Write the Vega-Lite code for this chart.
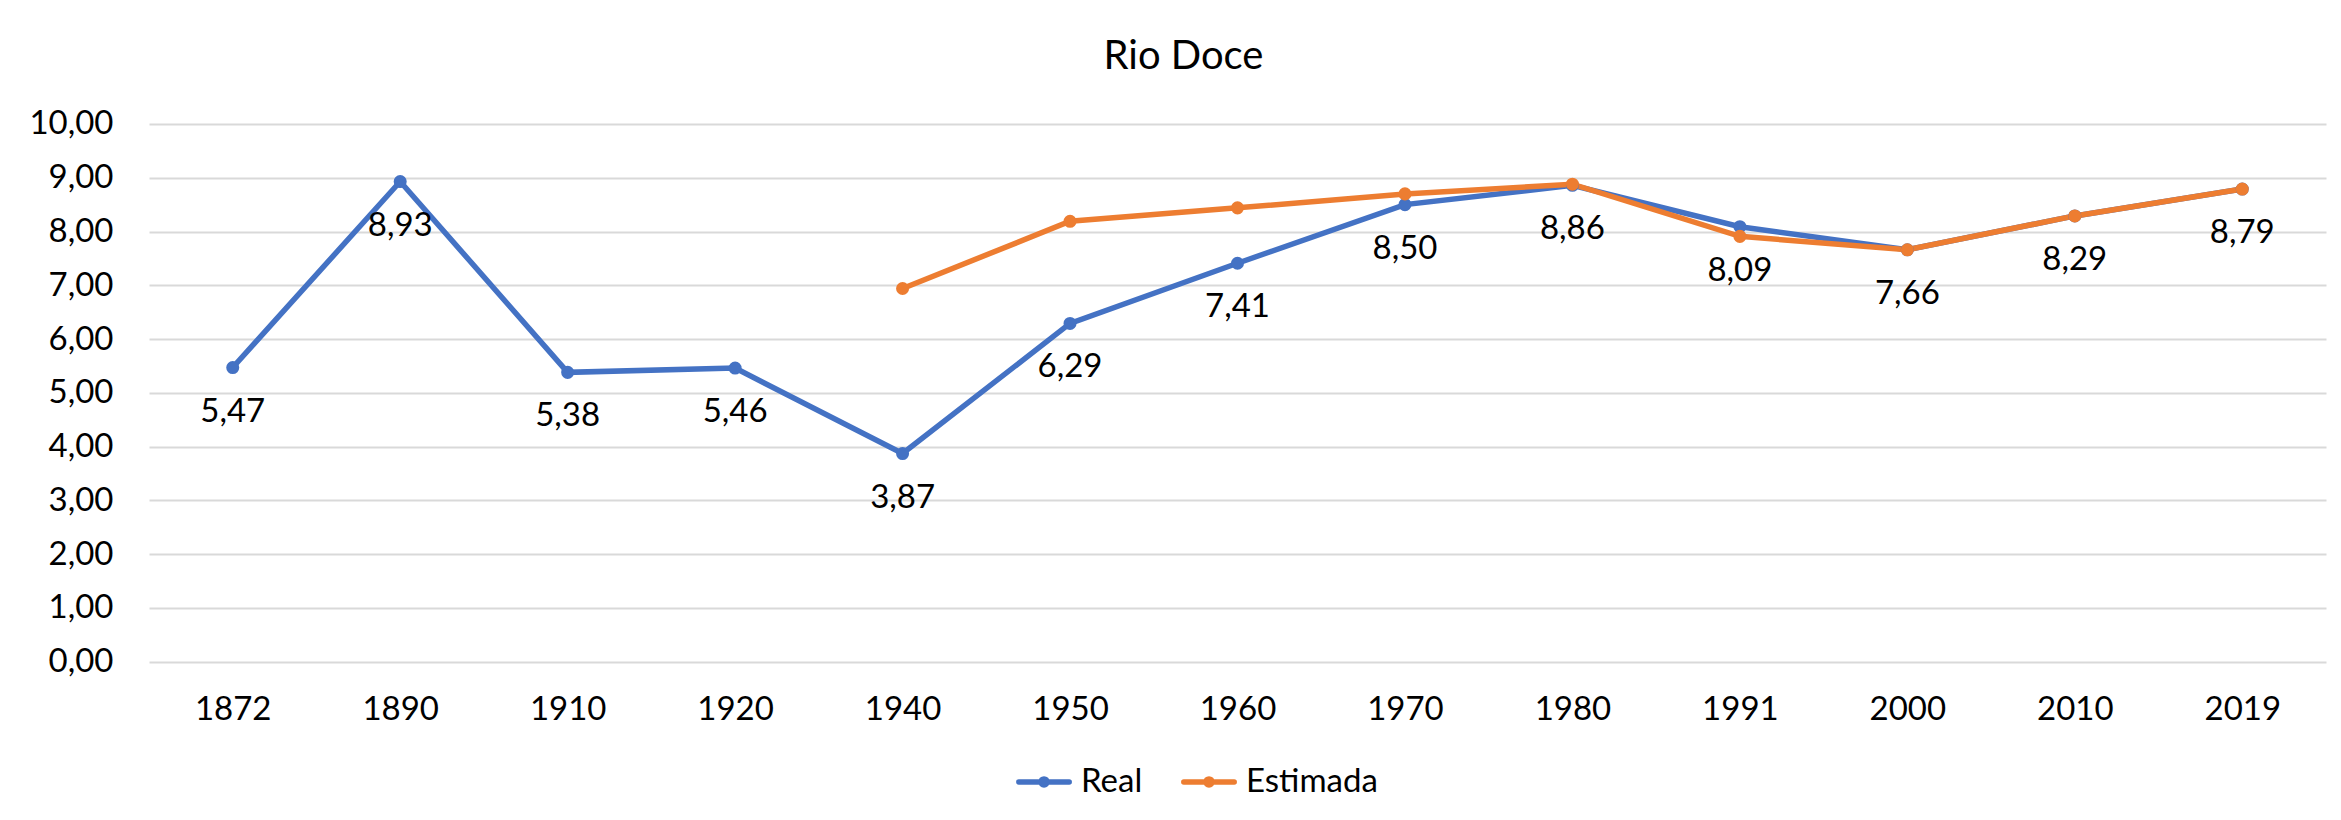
{
  "$schema": "https://vega.github.io/schema/vega-lite/v6.json",
  "width": 2177,
  "height": 537.6,
  "autosize": {"type": "none"},
  "padding": {"left": 149, "top": 124, "right": 15, "bottom": 158},
  "background": "white",
  "config": {
    "locale": {"number": {"decimal": ",", "thousands": ".", "grouping": [3], "currency": ["R$ ", ""]}},
    "font": "Lato",
    "view": {"stroke": null}
  },
  "title": {
    "text": "Rio Doce",
    "fontSize": 40,
    "fontWeight": "normal",
    "font": "Lato",
    "color": "black",
    "anchor": "middle",
    "dx": -54,
    "baseline": "alphabetic",
    "offset": 51,
    "dy": 52
  },
  "data": {
    "values": [
      {"year": "1872", "series": "Real", "value": 5.47},
      {"year": "1890", "series": "Real", "value": 8.93},
      {"year": "1910", "series": "Real", "value": 5.38},
      {"year": "1920", "series": "Real", "value": 5.46},
      {"year": "1940", "series": "Real", "value": 3.87},
      {"year": "1950", "series": "Real", "value": 6.29},
      {"year": "1960", "series": "Real", "value": 7.41},
      {"year": "1970", "series": "Real", "value": 8.50},
      {"year": "1980", "series": "Real", "value": 8.86},
      {"year": "1991", "series": "Real", "value": 8.09},
      {"year": "2000", "series": "Real", "value": 7.66},
      {"year": "2010", "series": "Real", "value": 8.29},
      {"year": "2019", "series": "Real", "value": 8.79},
      {"year": "1940", "series": "Estimada", "value": 6.94},
      {"year": "1950", "series": "Estimada", "value": 8.19},
      {"year": "1960", "series": "Estimada", "value": 8.44},
      {"year": "1970", "series": "Estimada", "value": 8.70},
      {"year": "1980", "series": "Estimada", "value": 8.88},
      {"year": "1991", "series": "Estimada", "value": 7.91},
      {"year": "2000", "series": "Estimada", "value": 7.66},
      {"year": "2010", "series": "Estimada", "value": 8.29},
      {"year": "2019", "series": "Estimada", "value": 8.79}
    ]
  },
  "layer": [
    {
      "mark": {"type": "line", "strokeWidth": 5.5, "point": {"filled": true, "size": 170, "opacity": 1}},
      "encoding": {
        "x": {
          "field": "year",
          "type": "ordinal",
          "sort": null,
          "axis": {
            "title": null,
            "domain": false,
            "ticks": false,
            "tickSize": 0,
            "grid": false,
            "labelAngle": 0,
            "labelFont": "Lato",
            "labelFontSize": 33,
            "labelColor": "black",
            "labelBaseline": "middle",
            "labelPadding": 48
          }
        },
        "y": {
          "field": "value",
          "type": "quantitative",
          "scale": {"domain": [0, 10]},
          "axis": {
            "title": null,
            "domain": false,
            "ticks": false,
            "tickSize": 0,
            "values": [0, 1, 2, 3, 4, 5, 6, 7, 8, 9, 10],
            "format": ".2f",
            "labelFont": "Lato",
            "labelFontSize": 33,
            "labelColor": "black",
            "labelPadding": 36,
            "gridColor": "#D9D9D9",
            "gridWidth": 2
          }
        },
        "color": {
          "field": "series",
          "type": "nominal",
          "scale": {"domain": ["Real", "Estimada"], "range": ["#4472C4", "#ED7D31"]},
          "legend": {
            "orient": "none",
            "legendX": 864,
            "legendY": 627,
            "direction": "horizontal",
            "title": null,
            "padding": 0,
            "labelFont": "Lato",
            "labelFontSize": 33,
            "labelColor": "black",
            "labelOffset": 6,
            "columnPadding": 29,
            "symbolType": "M-0.9,0H0.9M0.11,0A0.11,0.11,0,1,1,-0.11,0A0.11,0.11,0,1,1,0.11,0Z",
            "symbolSize": 3136,
            "symbolStrokeWidth": 5.5,
            "encode": {
              "symbols": {
                "update": {
                  "fill": {"scale": "color", "field": "value"},
                  "stroke": {"scale": "color", "field": "value"},
                  "strokeCap": {"value": "round"},
                  "opacity": {"value": 1}
                }
              }
            }
          }
        }
      }
    },
    {
      "transform": [{"filter": "datum.series === 'Real'"}],
      "mark": {"type": "text", "dy": 44, "baseline": "middle", "align": "center", "font": "Lato", "fontSize": 33, "color": "black"},
      "encoding": {
        "x": {"field": "year", "type": "ordinal", "sort": null},
        "y": {"field": "value", "type": "quantitative"},
        "text": {"field": "value", "type": "quantitative", "format": ".2f"}
      }
    }
  ]
}
